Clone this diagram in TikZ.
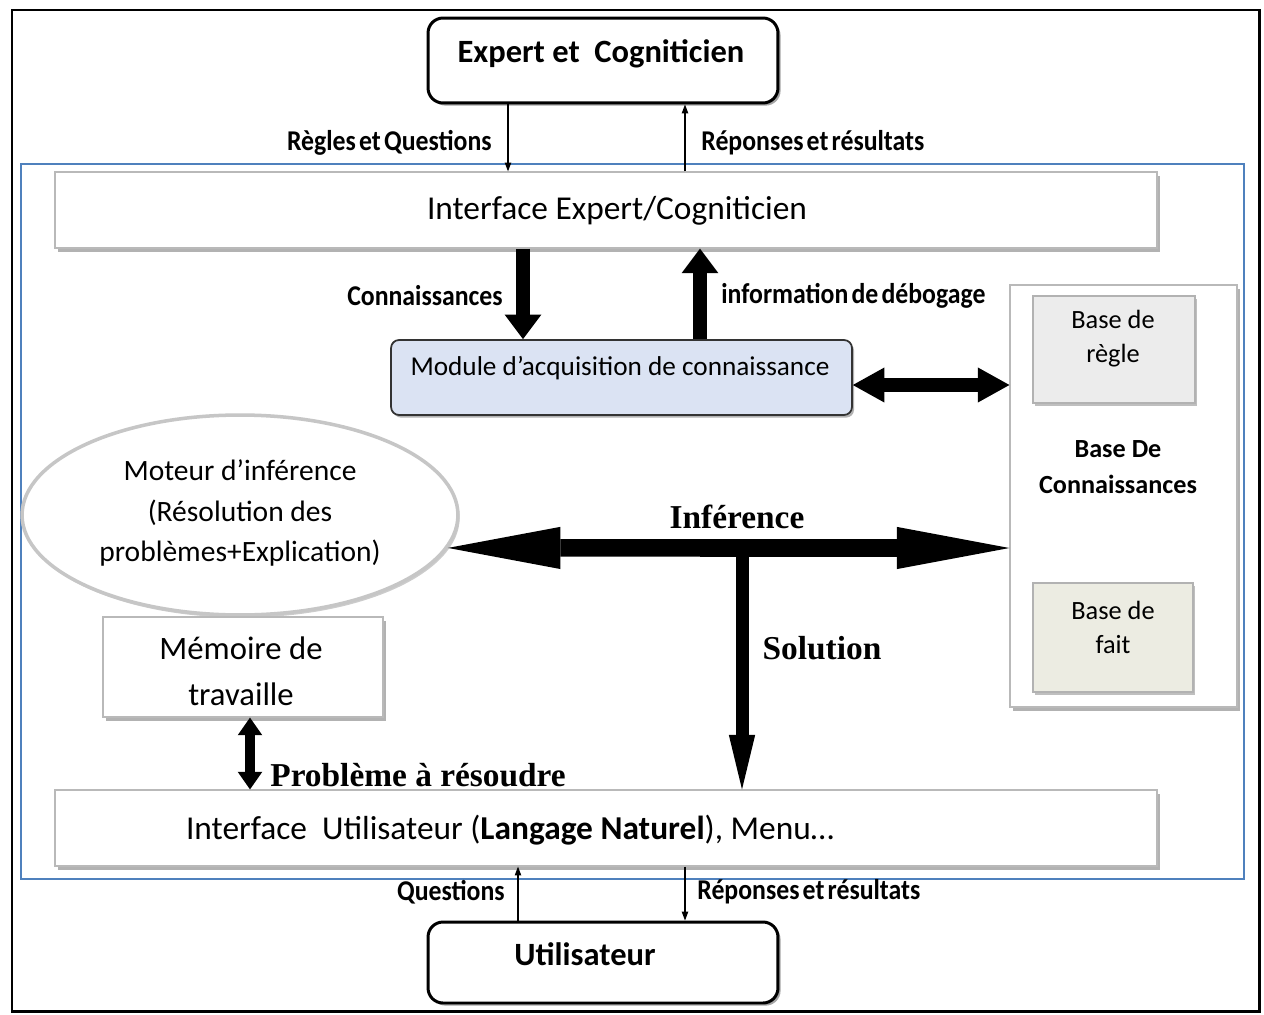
\documentclass[tikz,border=0pt]{standalone}
\usepackage{fontspec}
\setmainfont{Carlito}
\newfontfamily\condfam{Carlito}[FakeStretch=0.9,WordSpace=0.55]
\newfontfamily\serfam{Liberation Serif}
\usetikzlibrary{arrows.meta,shapes.geometric,shadows}

\definecolor{frameblue}{RGB}{79,129,189}
\definecolor{modfill}{RGB}{219,227,243}
\definecolor{rulefill}{RGB}{236,236,236}
\definecolor{factfill}{RGB}{236,236,226}
\definecolor{edgegray}{RGB}{185,185,185}

% font presets
\newcommand\lblfont{\condfam\bfseries\fontsize{16.3}{18}\selectfont}
\newcommand\serlblfont{\serfam\bfseries\fontsize{19}{22}\selectfont}
\newcommand\agentfont{\bfseries\fontsize{18.5}{22}\selectfont}
\newcommand\ifacefont{\fontsize{19}{22}\selectfont}
\newcommand\modfont{\fontsize{15.5}{18}\selectfont}
\newcommand\engfont{\fontsize{16.8}{22.8}\selectfont}
\newcommand\memfont{\fontsize{18.6}{26}\selectfont}
\newcommand\bxfont{\fontsize{15}{19.3}\selectfont}
\newcommand\kbfont{\bfseries\fontsize{14.9}{20.5}\selectfont}

\begin{document}
\begin{tikzpicture}[x=0.02cm,y=-0.02cm,
  agent/.style={draw=black,line width=1.7pt,rounded corners=0.3cm,fill=white,
    minimum width=7cm,
    drop shadow={shadow xshift=1.5pt,shadow yshift=-1.5pt,fill=gray,opacity=0.7}},
  panel/.style={draw=edgegray,line width=0.7pt,fill=white,
    drop shadow={shadow xshift=1.5pt,shadow yshift=-2.5pt,fill=gray,opacity=0.6}},
  subbox/.style={draw=gray!60,line width=1pt,
    drop shadow={shadow xshift=1.2pt,shadow yshift=-1.5pt,fill=gray,opacity=0.5}},
  lbl/.style={font=\lblfont,inner sep=0pt},
  serlbl/.style={font=\serlblfont,inner sep=0pt},
  thinarrow/.style={draw=black,line width=0.6pt,-{Triangle[length=5pt,width=3.6pt]}},
  fatarrow/.style={line width=8pt,-{Triangle[length=14pt,width=21pt,line width=0pt]}},
  meddouble/.style={line width=8pt,
    {Triangle[length=18pt,width=20pt,line width=0pt]}-{Triangle[length=18pt,width=20pt,line width=0pt]}},
  bigdouble/.style={line width=10pt,
    {Triangle[length=64pt,width=24pt,line width=0pt]}-{Triangle[length=64pt,width=24pt,line width=0pt]}},
  solarrow/.style={line width=7.4pt,-{Triangle[length=31pt,width=15pt,line width=0pt]}},
  memdouble/.style={line width=6pt,
    {Triangle[length=10pt,width=14pt,line width=0pt]}-{Triangle[length=10pt,width=14pt,line width=0pt]}}
]
\useasboundingbox (0,0) rectangle (1264,1014);
\fill[white] (0,0) rectangle (1264,1014);

% outer frame and system boundary
\draw[line width=1.7pt] (12,10) rectangle (1259,1011);
\draw[draw=frameblue,line width=1.6pt] (21,164) rectangle (1244,879);

% actors
\node[agent,minimum height=1.7cm] (expert) at (603,60.5) {};
\node[font=\agentfont] (expert-t) at (601,54) {Expert et\ \ Cogniticien};
\node[agent,minimum height=1.62cm] (user) at (603,962.5) {};
\node[font=\agentfont] (user-t) at (585,954) {Utilisateur};

% interfaces
\node[panel,minimum width=22.04cm,minimum height=1.52cm] (iexp) at (606,210) {};
\node[font=\ifacefont] (iexp-t) at (617,211) {Interface Expert/Cogniticien};
\node[panel,minimum width=22.04cm,minimum height=1.52cm] (iuser) at (606,828) {};
\node[font=\ifacefont] (iuser-t) at (510,830)
  {Interface\ \ Utilisateur (\textbf{Langage Naturel}), Menu…};

% knowledge acquisition module
\node[draw=black!80,line width=1pt,rounded corners=0.16cm,fill=modfill,
  minimum width=9.22cm,minimum height=1.5cm,
  drop shadow={shadow xshift=1.2pt,shadow yshift=-1.5pt,fill=gray,opacity=0.6}]
  (module) at (621.5,377.5) {};
\node[font=\modfont] (module-t) at (620,368) {Module d’acquisition de connaissance};

% knowledge base
\node[panel,minimum width=4.54cm,minimum height=8.44cm] (kb) at (1123.5,496) {};
\node[subbox,fill=rulefill,minimum width=3.24cm,minimum height=2.14cm] (rules) at (1114,349.5) {};
\node[font=\bxfont,align=center] (rules-t) at (1113,339) {Base de\\règle};
\node[font=\kbfont,align=center] (kb-t) at (1118,467) {Base De\\Connaissances};
\node[subbox,fill=factfill,minimum width=3.2cm,minimum height=2.18cm] (facts) at (1113,637.5) {};
\node[font=\bxfont,align=center] (facts-t) at (1113,627) {Base de\\fait};

% inference engine
\node[ellipse,draw=gray!45,line width=2pt,fill=white,inner sep=0pt,
  minimum width=8.72cm,minimum height=4cm,
  drop shadow={shadow xshift=1pt,shadow yshift=-1.5pt,fill=gray,opacity=0.4}]
  (engine) at (240,515) {};
\node[font=\engfont,align=center] (engine-t) at (240,513)
  {Moteur d’inférence\\(Résolution des\\problèmes+Explication)};

% working memory
\node[panel,minimum width=5.6cm,minimum height=2cm] (memo) at (243,667) {};
\node[font=\memfont,align=center] (memo-t) at (241,671) {Mémoire de\\travaille};

% guide coordinates for the connectors
\coordinate (xRQ) at (508,0);
\coordinate (xRR) at (685,0);
\coordinate (xQ) at (518,0);
\coordinate (xK) at (523,0);
\coordinate (xD) at (700,0);
\coordinate (xM) at (250,0);
\coordinate (yMK) at (0,385);
\coordinate (tee) at (742,548);

% expert side exchanges
\draw[thinarrow] (expert.south -| xRQ) -- (iexp.north -| xRQ);
\draw[thinarrow] (iexp.north -| xRR) -- (expert.south -| xRR);
\node[lbl,anchor=east] (l-rq) at (492,143) {Règles et Questions};
\node[lbl,anchor=west] (l-rr) at (701,143) {Réponses et résultats};

% knowledge acquisition flows
\draw[fatarrow] (iexp.south -| xK) -- (module.north -| xK);
\draw[fatarrow] (module.north -| xD) -- (iexp.south -| xD);
\node[lbl,anchor=east] (l-k) at (503,296) {Connaissances};
\node[lbl,anchor=west] (l-d) at (721,296) {information de débogage};
\draw[meddouble] (module.east |- yMK) -- (kb.west |- yMK);

% inference and solution
\draw[bigdouble] (engine.-9) -- (tee -| kb.west);
\draw[solarrow] (tee) -- (tee |- iuser.north);
\node[serlbl] (l-inf) at (737,517) {Inférence};
\node[serlbl] (l-sol) at (822,648) {Solution};

% working memory link
\draw[memdouble] (memo.south -| xM) -- (iuser.north -| xM);
\node[serlbl,anchor=west] (l-pb) at (270,775) {Problème à résoudre};

% user side exchanges
\draw[thinarrow] (user.north -| xQ) -- (iuser.south -| xQ);
\draw[thinarrow] (iuser.south -| xRR) -- (user.north -| xRR);
\node[lbl,anchor=east] (l-q) at (505,892) {Questions};
\node[lbl,anchor=west] (l-rr2) at (697,892) {Réponses et résultats};
\end{tikzpicture}
\end{document}
